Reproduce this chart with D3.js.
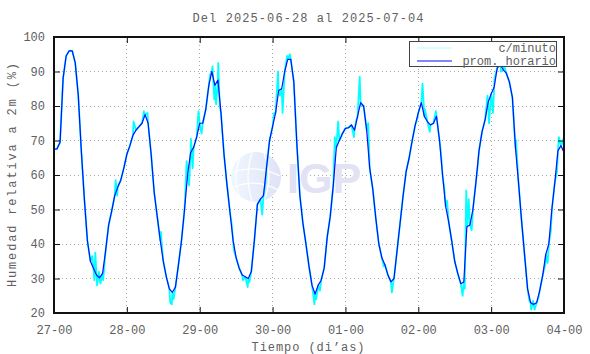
<!DOCTYPE html>
<html>
<head>
<meta charset="utf-8">
<script src="https://cdn.jsdelivr.net/npm/d3@7"></script>
<style>
  body { margin: 0; background: #fff; }
  text { font-family: "Liberation Mono", "DejaVu Sans Mono", monospace; fill: #606060; }
</style>
</head>
<body>
<div id="chart"></div>
<script>
// humedad relativa, semana del 2025-06-28

var titulo = 'Del 2025-06-28 al 2025-07-04';
var diasLabels = ['27-00', '28-00', '29-00', '30-00', '01-00', '02-00', '03-00', '04-00'];
var yTicks = [20, 30, 40, 50, 60, 70, 80, 90, 100];

// promedio horario, una cifra por hora desde 27-00
var promHorario = [
  67.5, 67.6, 69.5, 88, 94.5, 96, 96, 92.5, 83, 67, 53, 41, 35, 33, 31, 30.2, 31.5, 38, 45.5, 49.5, 54, 56.5, 58.5, 62,
  66, 68.5, 71.5, 73, 74, 75, 77.5, 75, 66, 55, 48, 41, 35, 30.5, 27, 26, 27.5, 34, 41, 50, 60, 66.5, 68, 71,
  75, 75, 79, 86, 90, 86, 87.5, 78, 66, 57, 49, 41, 36, 33, 31, 30.5, 30, 32, 41, 51.5, 53, 54, 62, 70,
  74, 78, 84.5, 85, 90, 93.5, 93.5, 87, 69, 54, 46, 40, 33.5, 28, 25.5, 28, 29.5, 33, 42, 48, 57, 68, 70, 72,
  73.5, 73.7, 74.5, 73, 77, 81, 80, 73, 62, 56, 47.5, 40, 36, 34, 31, 29, 30, 38, 46, 54, 61, 65, 70, 74.5,
  78, 81, 77, 75.5, 74.5, 75, 77, 70, 60, 51, 46.5, 41, 35, 31.5, 28.5, 29, 45, 45.5, 50, 58, 67, 72.5, 76, 81,
  83.5, 85.5, 91, 92, 90.5, 89.5, 87, 82.5, 68, 58, 47, 37, 27, 23, 22.5, 23, 26.5, 31, 37, 40, 50, 58, 67, 68.5,
  66.5
];

// picos de la serie por minuto [hora, valor]
var picosMinuto = [
  [12.6, 36.5], [13.3, 29.5], [13.6, 37.5], [14.2, 28], [14.8, 32], [15.3, 28.5], [16.2, 29.5], [20.3, 58.5], [20.8, 54], [26.2, 75.5],
  [29.6, 78.5], [30.8, 78], [35.2, 43.5], [35.6, 39], [38.3, 23], [38.8, 22.5], [39.4, 24], [43.7, 64], [44.5, 57], [45.1, 70.5],
  [45.7, 62], [47.6, 78.5], [48.6, 72], [51.4, 89], [52.2, 91.5], [52.8, 82], [53.4, 80.5], [54.1, 92.5], [54.6, 80],
  [58.5, 46], [59.3, 38], [62.2, 29.5], [63.8, 27.5], [64.4, 29], [68.6, 48.5], [69.6, 57], [72.5, 78], [73.8, 90], [74.4, 83],
  [75.3, 78], [76.8, 94.5], [77.7, 95],
  [85.8, 22.5], [86.4, 24], [87.6, 26.5], [92.5, 71], [93.6, 75.5], [94.6, 71], [98.8, 71], [99.6, 76], [100.7, 88.5], [101.2, 80],
  [103.5, 75], [108.6, 33.5], [111.3, 26], [111.8, 29],
  [119.6, 76], [121.4, 86.5], [122.2, 79], [123.8, 72.5], [125.8, 78.5], [127.4, 67], [128.6, 56], [129.5, 52.5], [134.6, 25],
  [135.3, 27], [135.8, 55.5], [136.2, 46], [136.6, 53], [137.6, 44], [139.5, 62],
  [142.8, 83], [143.3, 75], [144.6, 78], [145.1, 88], [146.4, 94.5], [147.2, 90], [148.2, 92], [152.2, 70], [156.6, 23.5],
  [157.2, 21], [157.8, 23.5], [158.3, 21], [159.6, 24.5], [161.8, 34], [162.6, 34.5], [163.7, 44], [165.7, 61], [166.3, 71], [167.8, 70.5]
];

var W = 590, H = 354;
var m = { left: 54, right: 564, top: 37, bottom: 313 };

var svg = d3.select('#chart').append('svg')
  .attr('width', W)
  .attr('height', H);

var x = d3.scaleLinear().domain([0, 168]).range([m.left, m.right]);
var y = d3.scaleLinear().domain([20, 100]).range([m.bottom, m.top]);

var horario = promHorario.map(function(v, i) { return [i, v]; });
var minuto = horario.concat(picosMinuto).sort(function(a, b) { return a[0] - b[0]; });

// grid
var grid = svg.append('g');
grid.selectAll('line.gy').data(yTicks.slice(1, -1)).enter().append('line')
  .attr('x1', m.left).attr('x2', m.right)
  .attr('y1', function(d) { return y(d); }).attr('y2', function(d) { return y(d); });
grid.selectAll('line.gx').data(d3.range(1, 7)).enter().append('line')
  .attr('x1', function(d) { return x(d * 24); }).attr('x2', function(d) { return x(d * 24); })
  .attr('y1', m.top).attr('y2', m.bottom);
grid.selectAll('line')
  .attr('stroke', '#aaa')
  .attr('stroke-width', 1)
  .attr('stroke-dasharray', '1,3')
  .attr('shape-rendering', 'crispEdges');

// marca de agua IGP
var defs = svg.append('defs');
var grad = defs.append('linearGradient').attr('id', 'globo').attr('x1', 0).attr('x2', 1);
grad.append('stop').attr('offset', '0%').attr('stop-color', '#eef8fe');
grad.append('stop').attr('offset', '100%').attr('stop-color', '#dfe2f6');
var wm = svg.append('g');
wm.append('circle').attr('cx', 256).attr('cy', 177).attr('r', 25).attr('fill', 'url(#globo)');
wm.append('path').attr('d', 'M240,158 Q232,177 240,198').attr('fill', 'none').attr('stroke', '#fff').attr('stroke-width', 1.2);
wm.append('path').attr('d', 'M252,153 Q244,177 252,201').attr('fill', 'none').attr('stroke', '#fff').attr('stroke-width', 1.2);
wm.append('path').attr('d', 'M264,154 Q274,177 264,200').attr('fill', 'none').attr('stroke', '#fff').attr('stroke-width', 1.2);
wm.append('path').attr('d', 'M233,172 Q256,164 280,176').attr('fill', 'none').attr('stroke', '#fff').attr('stroke-width', 1.2);
wm.append('path').attr('d', 'M234,187 Q256,178 278,190').attr('fill', 'none').attr('stroke', '#fff').attr('stroke-width', 1.2);
wm.append('text').attr('x', 287).attr('y', 193)
  .style('font-family', '"Liberation Sans", Arial, sans-serif')
  .style('font-weight', 'bold').style('font-size', '43px').style('fill', '#e2e2f4')
  .text('IGP');

// series
var clip = defs.append('clipPath').attr('id', 'area');
clip.append('rect').attr('x', m.left).attr('y', m.top).attr('width', m.right - m.left).attr('height', m.bottom - m.top);

var line = d3.line()
  .x(function(d) { return x(d[0]); })
  .y(function(d) { return y(d[1]); });

var series = svg.append('g').attr('clip-path', 'url(#area)');
series.append('path').datum(minuto)
  .attr('d', line).attr('fill', 'none')
  .attr('stroke', '#00ffff').attr('stroke-width', 1.8).attr('stroke-linejoin', 'round');
series.append('path').datum(horario)
  .attr('d', line).attr('fill', 'none')
  .attr('stroke', '#0a0aff').attr('stroke-width', 1.2).attr('stroke-linejoin', 'round');

// ejes
var fontSize = '12px';
var yAxis = d3.axisLeft(y).tickValues(yTicks).tickSize(-6).tickPadding(9);
var yAxisR = d3.axisRight(y).tickValues(yTicks).tickSize(-6).tickFormat('');
var xAxis = d3.axisBottom(x).tickValues(d3.range(0, 169, 24)).tickSize(-6).tickPadding(12)
  .tickFormat(function(d, i) { return diasLabels[i]; });
var xAxisT = d3.axisTop(x).tickValues(d3.range(0, 169, 24)).tickSize(-6).tickFormat('');

svg.append('g').attr('transform', 'translate(' + m.left + ',0)').call(yAxis);
svg.append('g').attr('transform', 'translate(' + m.right + ',0)').call(yAxisR);
svg.append('g').attr('transform', 'translate(0,' + m.bottom + ')').call(xAxis);
svg.append('g').attr('transform', 'translate(0,' + m.top + ')').call(xAxisT);

svg.selectAll('.domain').remove();
svg.selectAll('.tick line').attr('stroke', '#111').attr('stroke-width', 1);
svg.selectAll('.tick text').style('font-size', fontSize).style('font-family', '"Liberation Mono", monospace').attr('fill', '#606060');

svg.append('rect')
  .attr('x', m.left).attr('y', m.top)
  .attr('width', m.right - m.left).attr('height', m.bottom - m.top)
  .attr('fill', 'none').attr('stroke', '#111').attr('stroke-width', 2);

// textos
svg.append('text').attr('x', 308).attr('y', 22)
  .attr('text-anchor', 'middle').style('font-size', '12px')
  .attr('textLength', 231).attr('lengthAdjust', 'spacing')
  .text(titulo);

svg.append('text').attr('x', 308).attr('y', 351)
  .attr('text-anchor', 'middle').style('font-size', '12px')
  .attr('textLength', 113).attr('lengthAdjust', 'spacing')
  .text('Tiempo (di\u2019as)');

svg.append('text')
  .attr('transform', 'translate(16,175) rotate(-90)')
  .attr('text-anchor', 'middle').style('font-size', '12px')
  .attr('textLength', 224).attr('lengthAdjust', 'spacing')
  .text('Humedad relativa a 2m (%)');

// leyenda
var leg = svg.append('g');
leg.append('rect').attr('x', 409.5).attr('y', 41.5).attr('width', 147).attr('height', 25)
  .attr('fill', '#fff').attr('stroke', '#444').attr('stroke-width', 1);
var legItems = [['c/minuto', '#b0ffff', 48], ['prom. horario', '#0a0aff', 61]];
legItems.forEach(function(it) {
  leg.append('line').attr('x1', 417).attr('x2', 452).attr('y1', it[2]).attr('y2', it[2])
    .attr('stroke', it[1]).attr('stroke-width', 1.2);
  leg.append('text').attr('x', 556).attr('y', it[2] + 4)
    .attr('text-anchor', 'end').style('font-size', '12px')
    .text(it[0]);
});
</script>
</body>
</html>
